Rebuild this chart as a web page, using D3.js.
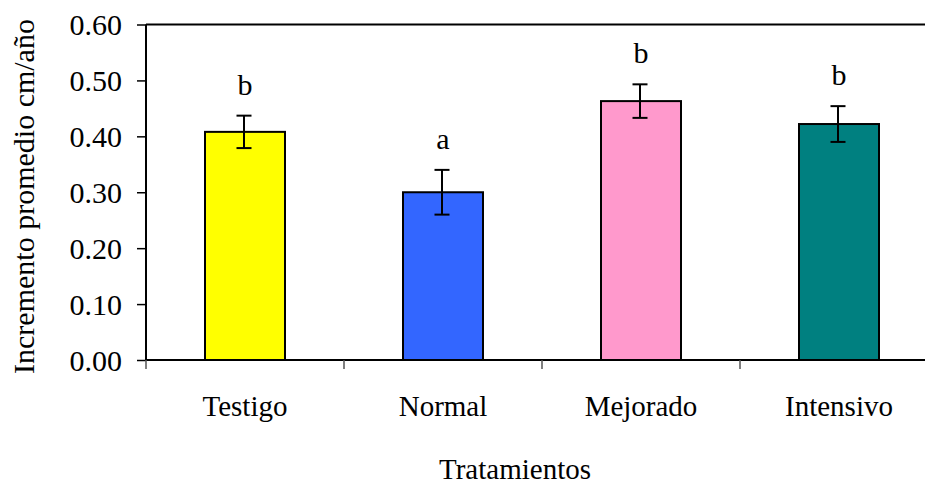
<!DOCTYPE html>
<html>
<head>
<meta charset="utf-8">
<script src="https://cdn.jsdelivr.net/npm/d3@7"></script>
<style>
  html, body { margin: 0; padding: 0; background: #fff; }
  svg { display: block; font-family: "Liberation Serif", "Times New Roman", serif; }
</style>
</head>
<body>
<svg id="chart" width="925" height="486"></svg>
<script>
// Tratamientos y valores medios de incremento (cm/año)
const categories = ["Testigo", "Normal", "Mejorado", "Intensivo"];
const means = [0.408, 0.300, 0.463, 0.422];
const errors = [0.029, 0.040, 0.030, 0.032];
const groupLetters = ["b", "a", "b", "b"];
const colors = ["#FFFF00", "#3366FF", "#FF99CC", "#008080"];
const yTicks = [0.00, 0.10, 0.20, 0.30, 0.40, 0.50, 0.60];

const svg = d3.select("#chart");
const plotLeft = 146, plotTop = 24.5, plotBottom = 360, plotRight = 938;
const fs = 30, fsLabel = 29;

const xBand = d3.scaleBand().domain(categories).range([plotLeft, plotRight]);
const y = d3.scaleLinear().domain([0, 0.6]).range([plotBottom, plotTop]);

// marco superior del área de trazado
svg.append("line")
  .attr("x1", plotLeft).attr("x2", plotRight)
  .attr("y1", y(0.6)).attr("y2", y(0.6))
  .attr("stroke", "#000").attr("stroke-width", 2);

// barras
const bw = 80;
svg.selectAll("rect.bar").data(categories).enter().append("rect")
  .attr("class", "bar")
  .attr("x", d => xBand(d) + xBand.bandwidth() / 2 - bw / 2)
  .attr("width", bw)
  .attr("y", (d, i) => y(means[i]))
  .attr("height", (d, i) => y(0) - y(means[i]))
  .attr("fill", (d, i) => colors[i])
  .attr("stroke", "#000").attr("stroke-width", 2);

// barras de error y letras de agrupación
const cap = 15;
categories.forEach((c, i) => {
  const cx = xBand(c) + xBand.bandwidth() / 2 - 1;
  const g = svg.append("g").attr("stroke", "#000").attr("stroke-width", 2);
  g.append("line").attr("x1", cx).attr("x2", cx)
    .attr("y1", y(means[i] + errors[i])).attr("y2", y(means[i] - errors[i]));
  g.append("line").attr("x1", cx - cap / 2).attr("x2", cx + cap / 2)
    .attr("y1", y(means[i] + errors[i])).attr("y2", y(means[i] + errors[i]));
  g.append("line").attr("x1", cx - cap / 2).attr("x2", cx + cap / 2)
    .attr("y1", y(means[i] - errors[i])).attr("y2", y(means[i] - errors[i]));
  svg.append("text")
    .attr("x", cx + 1)
    .attr("y", y(means[i] + errors[i]) - 21)
    .attr("text-anchor", "middle")
    .attr("font-size", fs)
    .text(groupLetters[i]);
});

// eje Y
const yAxis = svg.append("g")
  .attr("transform", `translate(${plotLeft},0)`)
  .call(d3.axisLeft(y).tickValues(yTicks).tickFormat(d3.format(".2f")).tickSize(9).tickPadding(15));
yAxis.select(".domain").attr("stroke-width", 2).attr("d", `M0,${y(0.6)}V${y(0)}`);
yAxis.selectAll(".tick line").attr("stroke-width", 1.5);
yAxis.selectAll(".tick text").attr("font-size", fs).attr("fill", "#000")
  .attr("font-family", "Liberation Serif, Times New Roman, serif").attr("dy", "0.34em");

// eje X
const xAxis = svg.append("g").attr("transform", `translate(0,${plotBottom})`);
xAxis.append("line").attr("x1", plotLeft).attr("x2", plotRight).attr("y1", 0).attr("y2", 0)
  .attr("stroke", "#000").attr("stroke-width", 2);
const boundaries = categories.map(c => xBand(c));
xAxis.selectAll("line.tick").data(boundaries).enter().append("line")
  .attr("x1", d => d).attr("x2", d => d).attr("y1", 0).attr("y2", 9)
  .attr("stroke", "#555").attr("stroke-width", 1.5);
xAxis.selectAll("text.cat").data(categories).enter().append("text")
  .attr("x", d => xBand(d) + xBand.bandwidth() / 2)
  .attr("y", 56)
  .attr("text-anchor", "middle")
  .attr("font-size", fsLabel)
  .text(d => d);

// títulos de ejes
svg.append("text")
  .attr("x", 515).attr("y", 479)
  .attr("text-anchor", "middle")
  .attr("font-size", fsLabel)
  .text("Tratamientos");
svg.append("text")
  .attr("transform", `translate(34,196.5) rotate(-90)`)
  .attr("text-anchor", "middle")
  .attr("font-size", fs)
  .text("Incremento promedio cm/año");
</script>
</body>
</html>
